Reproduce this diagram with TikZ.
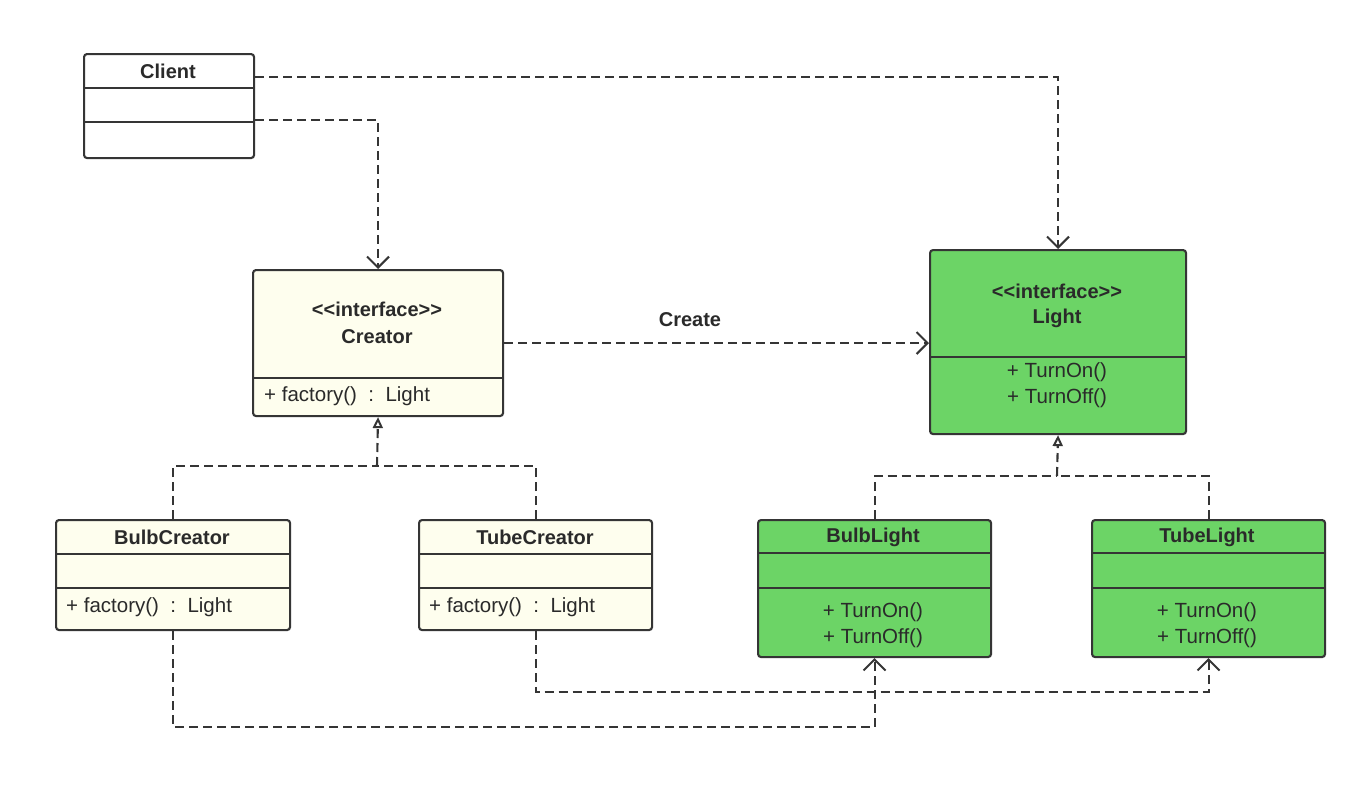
\documentclass[tikz,border=0pt]{standalone}
\usepackage{fontspec}
\setmainfont{Liberation Sans}
\usetikzlibrary{arrows.meta,calc}
\definecolor{lc}{HTML}{353535}
\definecolor{cream}{HTML}{FEFEEE}
\definecolor{grn}{HTML}{6CD466}
\definecolor{tc}{HTML}{2A2A2A}
\newcommand{\iface}{<\kern0pt<\kern0pt interface\kern0pt>\kern0pt>}
\begin{document}
\begin{tikzpicture}[x=1pt,y=-1pt,
  box/.style={draw=lc, line width=2.1pt, rounded corners=3pt, inner sep=0pt, anchor=north west},
  cbox/.style={box, fill=cream},
  gbox/.style={box, fill=grn},
  sep/.style={draw=lc, line width=2.1pt},
  ttl/.style={font=\fontsize{20}{23}\selectfont\bfseries, text=tc, inner sep=0pt},
  txt/.style={font=\fontsize{20.5}{23}\selectfont, text=tc, inner sep=0pt},
  dline/.style={draw=lc, line width=2.1pt, dash pattern=on 9pt off 5pt},
  dep/.style={dline, -{Straight Barb[length=11pt,width=22pt,line width=2pt]}},
  real/.style={dline, -{Triangle[open,length=11pt,width=10pt,line width=2pt]}},
]
\fill[white] (0,0) rectangle (1361,787);
\useasboundingbox (0,0) rectangle (1361,787);

% Client
\node[box, fill=white, minimum width=170pt, minimum height=104pt] (client) at (83,53) {};
\draw[sep] ([yshift=-35pt]client.north west) -- ([yshift=-35pt]client.north east);
\draw[sep] ([yshift=-69pt]client.north west) -- ([yshift=-69pt]client.north east);
\node[ttl] (clientT) at (168,71) {Client};

% Creator
\node[cbox, minimum width=250pt, minimum height=146pt] (creator) at (252,269) {};
\draw[sep] ([yshift=-109pt]creator.north west) -- ([yshift=-109pt]creator.north east);
\node[ttl] (creatorS) at (377,309) {\iface};
\node[ttl] (creatorT) at (377,337) {Creator};
\node[txt, anchor=west] (creatorM) at (264,396) {+ factory()\ \ :\ \ Light};

% Light
\node[gbox, minimum width=256pt, minimum height=184pt] (light) at (929,249) {};
\draw[sep] ([yshift=-108pt]light.north west) -- ([yshift=-108pt]light.north east);
\node[ttl] (lightS) at (1057,291) {\iface};
\node[ttl] (lightT) at (1057,318) {Light};
\node[txt] (lightM1) at (1057,372) {+ TurnOn()};
\node[txt] (lightM2) at (1057,398) {+ TurnOff()};

% BulbCreator
\node[cbox, minimum width=234pt, minimum height=110pt] (bulbc) at (55,519) {};
\draw[sep] ([yshift=-35pt]bulbc.north west) -- ([yshift=-35pt]bulbc.north east);
\draw[sep] ([yshift=-69pt]bulbc.north west) -- ([yshift=-69pt]bulbc.north east);
\node[ttl] (bulbcT) at (172,537) {BulbCreator};
\node[txt, anchor=west] (bulbcM) at (66,607) {+ factory()\ \ :\ \ Light};

% TubeCreator
\node[cbox, minimum width=233pt, minimum height=110pt] (tubec) at (418,519) {};
\draw[sep] ([yshift=-35pt]tubec.north west) -- ([yshift=-35pt]tubec.north east);
\draw[sep] ([yshift=-69pt]tubec.north west) -- ([yshift=-69pt]tubec.north east);
\node[ttl] (tubecT) at (535,537) {TubeCreator};
\node[txt, anchor=west] (tubecM) at (429,607) {+ factory()\ \ :\ \ Light};

% BulbLight
\node[gbox, minimum width=233pt, minimum height=137pt] (bulbl) at (757,519) {};
\draw[sep] ([yshift=-34pt]bulbl.north west) -- ([yshift=-34pt]bulbl.north east);
\draw[sep] ([yshift=-69pt]bulbl.north west) -- ([yshift=-69pt]bulbl.north east);
\node[ttl] (bulblT) at (873,537) {BulbLight};
\node[txt] (bulblM1) at (873,612) {+ TurnOn()};
\node[txt] (bulblM2) at (873,638) {+ TurnOff()};

% TubeLight
\node[gbox, minimum width=233pt, minimum height=137pt] (tubel) at (1091,519) {};
\draw[sep] ([yshift=-34pt]tubel.north west) -- ([yshift=-34pt]tubel.north east);
\draw[sep] ([yshift=-69pt]tubel.north west) -- ([yshift=-69pt]tubel.north east);
\node[ttl] (tubelT) at (1207,537) {TubeLight};
\node[txt] (tubelM1) at (1207,612) {+ TurnOn()};
\node[txt] (tubelM2) at (1207,638) {+ TurnOff()};

% Client dependencies
\draw[dep] ([yshift=-24pt]client.north east) -| (light.north);
\draw[dep] ([yshift=-67pt]client.north east) -| (creator.north);

% Create
\draw[dep] (creator.east) -- (light.west |- creator.east);
\node[ttl] (createL) at (690,320) {Create};

% Realization of Creator
\coordinate (cj) at (377,466);
\draw[dline] (bulbc.north) |- (cj);
\draw[dline] (tubec.north) |- (cj);
\draw[real] (cj) -- (creator.south);

% Realization of Light
\coordinate (lj) at (1057,476);
\draw[dline] (bulbl.north) |- (lj);
\draw[dline] (tubel.north) |- (lj);
\draw[real] (lj) -- (light.south);

% Creator -> Light products
\draw[dep] (bulbc.south) -- ++(0,96) -| (bulbl.south);
\draw[dep] (tubec.south) -- ++(0,61) -| (tubel.south);
\end{tikzpicture}
\end{document}
